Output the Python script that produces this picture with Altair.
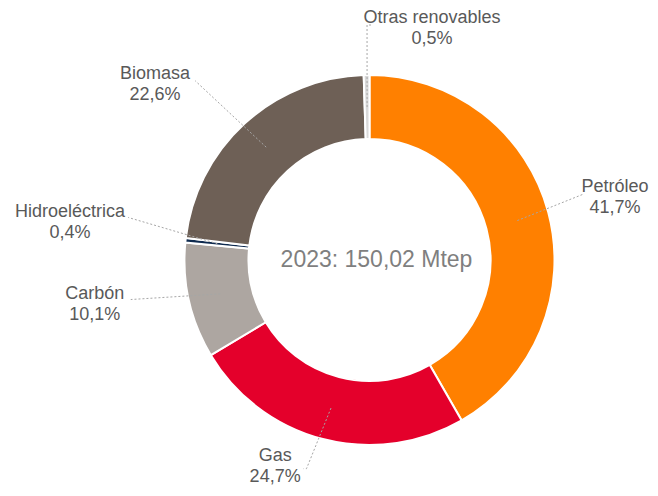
import math
import altair as alt
import pandas as pd

# ---- data ----
categories = ["Petróleo", "Gas", "Carbón", "Hidroeléctrica", "Biomasa", "Otras renovables"]
shares = [41.7, 24.7, 10.1, 0.4, 22.6, 0.5]
colors = ["#FF8000", "#E4002B", "#ADA6A1", "#0E2A4F", "#6E6056", "#D9D9D9"]
center_label = "2023: 150,02 Mtep"

# ---- layout (pixels / degrees) ----
W, H = 642, 480
CX, CY = 361.5, 252.0
R_IN, R_OUT = 121, 185
R_LEAD = 153
LINE_H = 21
# per label: elbow (angle, radius), end tick dx, label centre (angle, radius), nudge (dx, dy)
elbow = {
    "Petróleo": (72.9, 223), "Gas": (196.8, 218), "Carbón": (260.6, 242),
    "Hidroeléctrica": (280.0, 245), "Biomasa": (315.8, 250), "Otras renovables": (359.4, 235),
}
tick = {"Petróleo": 0, "Gas": -3, "Carbón": 0, "Hidroeléctrica": 0, "Biomasa": 0, "Otras renovables": 5}
label_pos = {
    "Petróleo": (75.7, 258.5), "Gas": (204.0, 232), "Carbón": (261.1, 278),
    "Hidroeléctrica": (277.5, 302), "Biomasa": (309.5, 278), "Otras renovables": (15.0, 241.7),
}
nudge = {"Petróleo": (-5, 0), "Gas": (0, -7)}


def polar(angle_deg, r):
    a = math.radians(angle_deg)
    return CX + r * math.sin(a), CY - r * math.cos(a)


total = sum(shares)
df = pd.DataFrame({"cat": categories, "share": shares, "idx": range(len(categories))})

line_rows, text_rows = [], []
cum = 0.0
for c, v in zip(categories, shares):
    mid = (cum + v / 2) / total * 360
    cum += v
    sx, sy = polar(mid, R_LEAD)
    ex, ey = polar(*elbow[c])
    pts = [(sx, sy), (ex, ey)]
    if tick[c]:
        pts.append((ex + tick[c], ey))
    for i, (x, y) in enumerate(pts):
        line_rows.append({"cat": c, "i": i, "x": x, "y": y})
    lx, ly = polar(*label_pos[c])
    ndx, ndy = nudge.get(c, (0, 0))
    pct = f"{v:.1f}".replace(".", ",") + "%"
    # first line of a two-line block sits half a line above the block centre
    text_rows.append({"cat": c, "x": lx + ndx, "y": ly + ndy - LINE_H / 2 + 1.5,
                      "txt": f"{c}\n{pct}"})

lines_df = pd.DataFrame(line_rows)
text_df = pd.DataFrame(text_rows)

xs = alt.Scale(domain=[0, W], range=[0, W])
ys = alt.Scale(domain=[0, H], range=[0, H])

arcs = alt.Chart(df).mark_arc(
    innerRadius=R_IN, outerRadius=R_OUT, stroke="white", strokeWidth=2
).encode(
    theta=alt.Theta("share:Q", stack=True),
    order=alt.Order("idx:Q"),
    color=alt.Color("cat:N", scale=alt.Scale(domain=categories, range=colors), legend=None),
    x=alt.value(CX),
    y=alt.value(CY),
)

leaders = alt.Chart(lines_df).mark_line(
    color="#A6A6A6", strokeWidth=1, strokeDash=[2, 2]
).encode(
    x=alt.X("x:Q", scale=xs, axis=None),
    y=alt.Y("y:Q", scale=ys, axis=None),
    detail="cat:N",
    order="i:Q",
)

labels = alt.Chart(text_df).mark_text(
    font="Liberation Sans", fontSize=18, color="#595959", align="center",
    baseline="middle", lineBreak="\n", lineHeight=LINE_H,
).encode(
    x=alt.X("x:Q", scale=xs, axis=None),
    y=alt.Y("y:Q", scale=ys, axis=None),
    text="txt:N",
)

center = alt.Chart(pd.DataFrame({"t": [center_label]})).mark_text(
    font="Liberation Sans", fontSize=23, color="#7F7F7F", align="center", baseline="middle", dx=7
).encode(x=alt.value(CX), y=alt.value(CY), text="t:N")

chart = alt.layer(arcs, leaders, labels, center).properties(
    width=W, height=H, padding=0, autosize="none"
).configure_view(stroke=None)

chart.save("out.html", embed_options={"renderer": "svg", "actions": False})
